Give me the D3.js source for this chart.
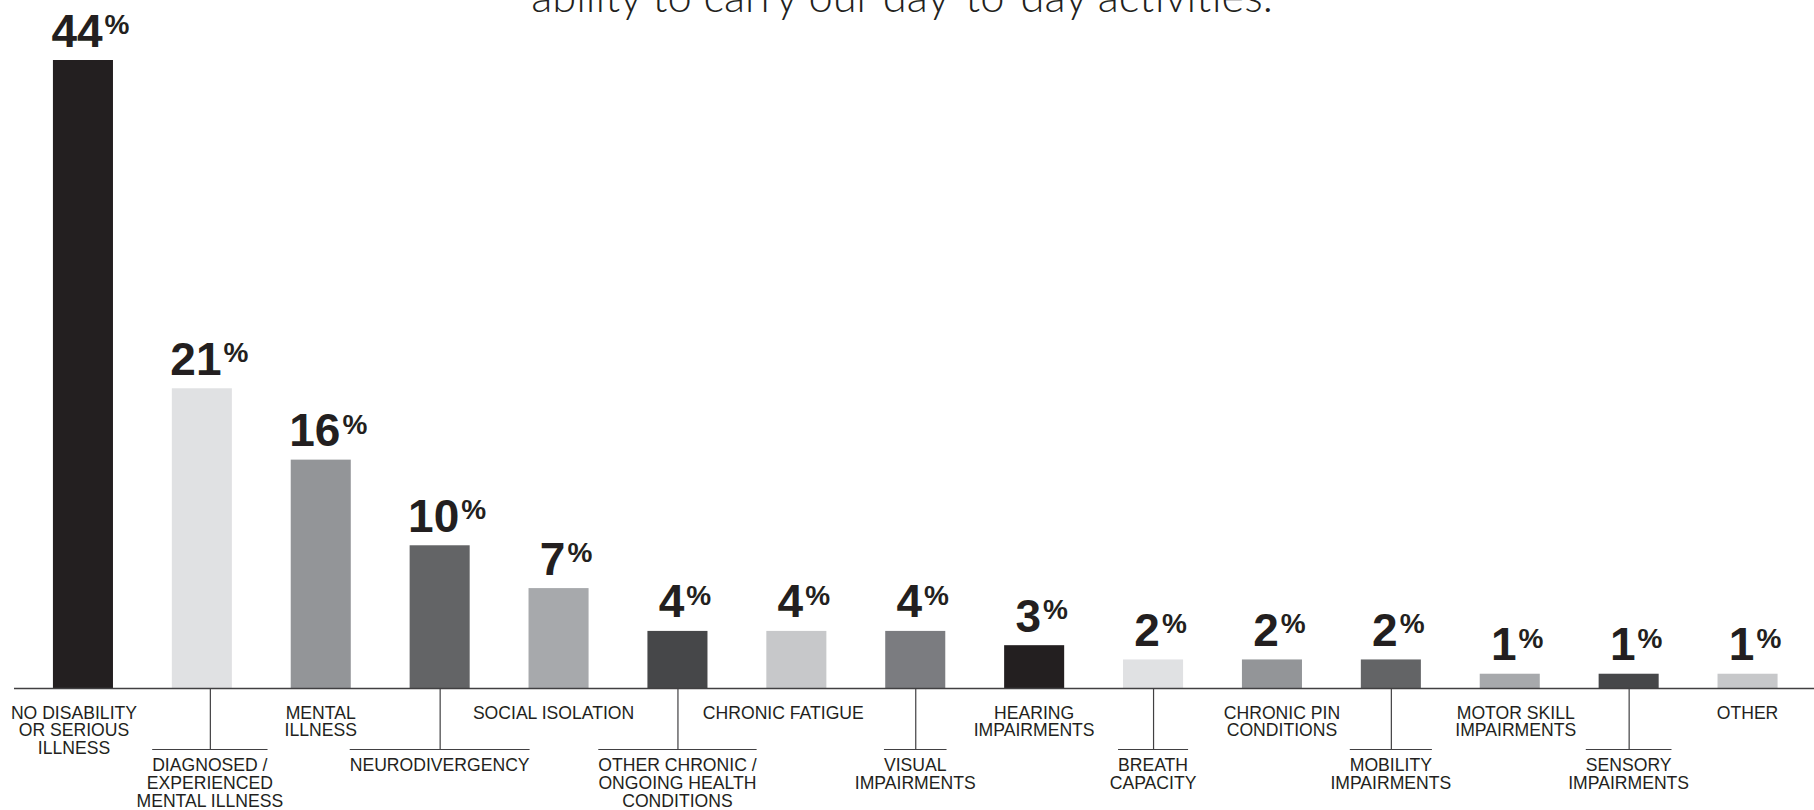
<!DOCTYPE html>
<html>
<head>
<meta charset="utf-8">
<script src="https://cdn.jsdelivr.net/npm/d3@7"></script>
<style>
  html, body { margin: 0; padding: 0; background: #ffffff; }
  svg { display: block; }
</style>
</head>
<body>
<svg id="chart" width="1814" height="810"></svg>
<script>
// Categories (line breaks mark wrapped label lines)
const categories = [
  "NO DISABILITY\nOR SERIOUS\nILLNESS",
  "DIAGNOSED /\nEXPERIENCED\nMENTAL ILLNESS",
  "MENTAL\nILLNESS",
  "NEURODIVERGENCY",
  "SOCIAL ISOLATION",
  "OTHER CHRONIC /\nONGOING HEALTH\nCONDITIONS",
  "CHRONIC FATIGUE",
  "VISUAL\nIMPAIRMENTS",
  "HEARING\nIMPAIRMENTS",
  "BREATH\nCAPACITY",
  "CHRONIC PIN\nCONDITIONS",
  "MOBILITY\nIMPAIRMENTS",
  "MOTOR SKILL\nIMPAIRMENTS",
  "SENSORY\nIMPAIRMENTS",
  "OTHER"
];

// Share of respondents (%)
const values = [44, 21, 16, 10, 7, 4, 4, 4, 3, 2, 2, 2, 1, 1, 1];

// Grey palette cycled across the bars
const palette = ["#231f20", "#e0e1e3", "#939598", "#636466", "#a7a9ac", "#464749", "#c7c8ca", "#7b7c80"];

const subtitle = "ability to carry our day-to-day activities.";

const ink = "#231f20";
const labelFont = "'Liberation Sans', Arial, Helvetica, sans-serif";

const svg = d3.select("#chart");
const W = 1814, H = 810;
const baseline = 688;

const x = d3.scaleBand()
  .domain(d3.range(categories.length))
  .range([23.5, 1807])
  .paddingInner(0.495)
  .paddingOuter(0.2475);

const y = d3.scaleLinear()
  .domain([0, d3.max(values)])
  .range([baseline, 60]);

const color = d3.scaleOrdinal()
  .domain(d3.range(palette.length))
  .range(palette);

// Subtitle line running off the top edge
svg.append("text")
  .attr("x", 902)
  .attr("y", 12)
  .attr("text-anchor", "middle")
  .attr("font-family", "Lato, 'Open Sans', sans-serif")
  .attr("font-weight", 300)
  .attr("font-size", 43.5)
  .attr("fill", ink)
  .text(subtitle);

// Bars
svg.append("g")
  .selectAll("rect")
  .data(values)
  .join("rect")
  .attr("x", (d, i) => x(i))
  .attr("width", x.bandwidth())
  .attr("y", d => y(d))
  .attr("height", d => y(0) - y(d))
  .attr("fill", (d, i) => color(i % palette.length));

// Baseline axis
svg.append("line")
  .attr("x1", 14).attr("x2", W)
  .attr("y1", baseline + 0.5).attr("y2", baseline + 0.5)
  .attr("stroke", "#414042")
  .attr("stroke-width", 1.6);

// Value labels: big bold number with a raised percent sign,
// the pair centred slightly right of the bar centre
const valueG = svg.append("g");
values.forEach((v, i) => {
  const cx = x(i) + x.bandwidth() / 2;
  const by = y(v) - 13.5;
  const num = valueG.append("text")
    .attr("y", by)
    .attr("font-family", labelFont)
    .attr("font-weight", 700)
    .attr("font-size", 46)
    .attr("fill", ink)
    .text(v);
  const pct = valueG.append("text")
    .attr("y", by - 12.5)
    .attr("font-family", labelFont)
    .attr("font-weight", 700)
    .attr("font-size", 28)
    .attr("fill", ink)
    .text("%");
  const nw = num.node().getComputedTextLength();
  const pw = pct.node().getComputedTextLength();
  const start = cx - (nw + 2 + pw) / 2 + 7.5;
  num.attr("x", start);
  pct.attr("x", start + nw + 2);
});

// Category labels, alternating between a top row and a lower row with leaders
const lineH = 17.75;
const leaderY = 749;
// small horizontal nudges that keep neighbouring labels apart
const labelShift = [-9, 8, 0, 0, -5, 0, -13, 0, 0, 0, 10, 0, 6, 0, 0];
const catG = svg.append("g")
  .attr("font-family", labelFont)
  .attr("font-size", 17.6)
  .attr("fill", ink);

categories.forEach((name, i) => {
  const cx = x(i) + x.bandwidth() / 2 + labelShift[i];
  const lines = name.split("\n");
  const lower = i % 2 === 1;
  const firstBase = lower ? 771 : 718.5;
  const t = catG.append("text")
    .attr("text-anchor", "middle");
  lines.forEach((ln, k) => {
    t.append("tspan")
      .attr("x", cx)
      .attr("y", firstBase + k * lineH)
      .text(ln);
  });
  if (lower) {
    const firstW = t.select("tspan").node().getComputedTextLength();
    catG.append("line")
      .attr("x1", cx + 0.5).attr("x2", cx + 0.5)
      .attr("y1", baseline + 1).attr("y2", leaderY)
      .attr("stroke", "#414042").attr("stroke-width", 1.2);
    catG.append("line")
      .attr("x1", cx - firstW / 2).attr("x2", cx + firstW / 2)
      .attr("y1", leaderY + 0.5).attr("y2", leaderY + 0.5)
      .attr("stroke", "#414042").attr("stroke-width", 1.2);
  }
});
</script>
</body>
</html>
